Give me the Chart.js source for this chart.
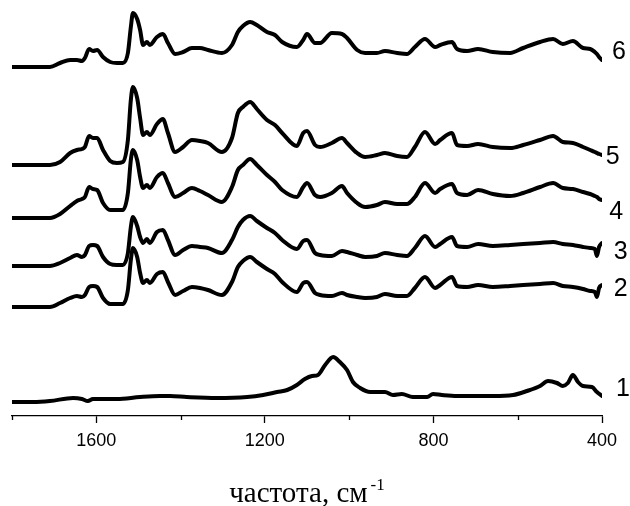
<!DOCTYPE html>
<html><head><meta charset="utf-8">
<script src="https://cdn.jsdelivr.net/npm/chart.js@4.4.1/dist/chart.umd.min.js"></script>
<style>html,body{margin:0;padding:0;background:#fff}</style>
</head><body>
<canvas id="c" width="630" height="506"></canvas>
<script>
// wavenumber grid (cm-1) for spectra 2-6
const wavenumbers = [1800,1710,1686,1662,1646,1634,1627,1617,1608,1598,1584,1567,1551,1537,1525,1518,1513,1503,1496,1489,1480,1473,1456,1442,1430,1413,1394,1373,1354,1335,1302,1278,1264,1252,1235,1219,1195,1176,1159,1124,1109,1100,1081,1069,1041,1017,1005,981,962,934,915,886,863,844,820,796,784,756,744,720,694,659,618,587,547,516,493,469,445,428,417,412,407,400];
// wavenumber grid for spectrum 1
const wavenumbers1 = [1800,1750,1710,1655,1634,1620,1608,1551,1496,1449,1425,1385,1314,1242,1204,1171,1147,1124,1105,1088,1074,1057,1038,1022,1005,991,974,950,915,896,875,849,815,801,780,744,706,659,611,578,547,528,507,493,481,469,457,445,424,412,400];
// offset intensities (arbitrary units)
const spectrum1 = [14,14,15,18,17,15,17,17,19,20,20,19,18,19,21,24,26,31,37,40,41,51,59,54,46,34,28,24,24,21,22,19,19,22,21,20,20,20,21,25,30,35,33,30,33,41,34,30,29,24,20];
const spectrum2 = [109,109,113,118,120,119,121,129,130,129,118,112,112,112,126,156,168,159,143,133,136,133,142,144,134,121,125,129,128,126,121,134,149,155,159,154,147,142,134,124,133,134,123,121,120,123,121,119,118,119,122,120,120,128,139,128,131,139,130,129,131,129,130,131,132,133,130,129,127,125,124,119,128,131];
const spectrum3 = [150,150,153,158,161,159,161,170,171,170,159,152,151,151,163,189,199,190,179,173,177,173,184,186,176,161,166,170,169,168,163,176,189,196,200,195,188,183,176,167,175,176,163,161,160,165,164,161,159,160,163,161,160,168,180,169,172,179,170,169,172,170,171,172,173,174,172,171,169,168,167,160,169,173];
const spectrum4 = [198,198,202,210,215,217,219,229,227,226,213,206,206,206,223,256,266,256,239,228,231,228,239,243,233,219,223,228,225,221,214,229,246,251,257,251,241,234,226,219,229,233,221,219,223,230,223,213,209,211,214,212,212,219,233,223,227,232,223,221,226,222,220,223,229,233,228,227,224,222,220,219,217,216];
const spectrum5 = [251,251,254,263,266,267,269,280,278,278,266,255,253,254,276,316,329,318,298,281,284,281,292,297,283,264,269,276,275,273,264,278,303,309,314,307,296,291,283,270,283,285,271,269,273,278,273,263,259,261,263,260,259,269,284,272,276,283,271,270,272,269,268,271,276,280,274,273,269,266,264,263,262,261];
const spectrum6 = [349,349,353,356,356,355,358,367,365,366,359,354,353,353,363,389,403,397,386,371,374,371,379,382,373,362,364,368,368,366,363,371,384,390,394,391,384,381,374,369,376,382,373,373,383,382,378,366,363,363,365,363,362,369,377,369,371,374,367,365,367,364,363,368,374,377,372,375,368,367,364,362,359,356];
// curve labels and their anchor positions (data units)
const curveLabels = ['1','2','3','4','5','6'];
const labelX = [367,372,372,383,391,376];
const labelY = [27,127,164,204,259,364];
const tickLabels = [1600,1200,800,400];
const axisTitle = 'частота, см';
const axisTitleSup = '-1';

function pts(xs, ys){ return xs.map((x,i)=>({x:x,y:ys[i]})); }
const allSeries = [[wavenumbers1,spectrum1],[wavenumbers,spectrum2],[wavenumbers,spectrum3],[wavenumbers,spectrum4],[wavenumbers,spectrum5],[wavenumbers,spectrum6]];

const deco = {
  id:'deco',
  afterDraw(chart){
    const ctx = chart.ctx, xs = chart.scales.x, ys = chart.scales.y;
    ctx.save();
    // minor ticks
    ctx.strokeStyle = '#000'; ctx.lineWidth = 1.3;
    for (let v = 1800; v >= 400; v -= 200) {
      if (tickLabels.includes(v)) continue;
      const px = Math.round(xs.getPixelForValue(v)) + 0.5;
      ctx.beginPath(); ctx.moveTo(px, xs.top); ctx.lineTo(px, xs.top + 4); ctx.stroke();
    }
    // curve labels
    ctx.fillStyle = '#000';
    ctx.font = '25px "Liberation Sans", Arial, sans-serif';
    ctx.textAlign = 'left'; ctx.textBaseline = 'middle';
    curveLabels.forEach((t,i)=>{
      ctx.fillText(t, xs.getPixelForValue(labelX[i]), ys.getPixelForValue(labelY[i]));
    });
    // axis title with superscript
    const mainFont = '29px "Liberation Serif", "Times New Roman", serif';
    const supFont = '17px "Liberation Serif", "Times New Roman", serif';
    ctx.font = mainFont; const w1 = ctx.measureText(axisTitle).width;
    ctx.font = supFont; const w2 = ctx.measureText(axisTitleSup).width;
    const cx = (chart.chartArea.left + chart.chartArea.right)/2;
    const x0 = cx - (w1 + w2 + 3)/2;
    ctx.textBaseline = 'alphabetic';
    ctx.font = mainFont; ctx.fillText(axisTitle, x0, 502);
    ctx.font = supFont; ctx.fillText(axisTitleSup, x0 + w1 + 3, 490);
    ctx.restore();
  }
};

new Chart(document.getElementById('c'), {
  type: 'line',
  data: {
    datasets: allSeries.map(s => ({
      data: pts(s[0], s[1]),
      borderColor: '#000',
      borderWidth: 4,
      pointRadius: 0,
      fill: false,
      cubicInterpolationMode: 'monotone',
      borderCapStyle: 'round',
      borderJoinStyle: 'round'
    }))
  },
  options: {
    responsive: false,
    animation: false,
    devicePixelRatio: 1,
    layout: { padding: { left: 12, right: 28, top: 0, bottom: 0 } },
    plugins: { legend: { display: false }, tooltip: { enabled: false }, title: { display: false } },
    scales: {
      x: {
        type: 'linear', reverse: true, min: 400, max: 1800,
        afterFit(s){ s.height = 90; },
        border: { display: true, color: '#000', width: 1.3 },
        grid: {
          drawOnChartArea: false, drawTicks: true, tickLength: 7,
          tickColor: c => (c.tick && tickLabels.includes(c.tick.value)) ? '#000' : 'rgba(0,0,0,0)',
          tickWidth: 1.3
        },
        ticks: {
          stepSize: 200, autoSkip: false, maxRotation: 0, padding: 7,
          color: '#000',
          font: { family: '"Liberation Sans", Arial, sans-serif', size: 18 },
          callback: v => tickLabels.includes(v) ? String(v) : ''
        }
      },
      y: { type: 'linear', display: false, min: 0, max: 416 }
    }
  },
  plugins: [deco]
});
</script>
</body></html>
